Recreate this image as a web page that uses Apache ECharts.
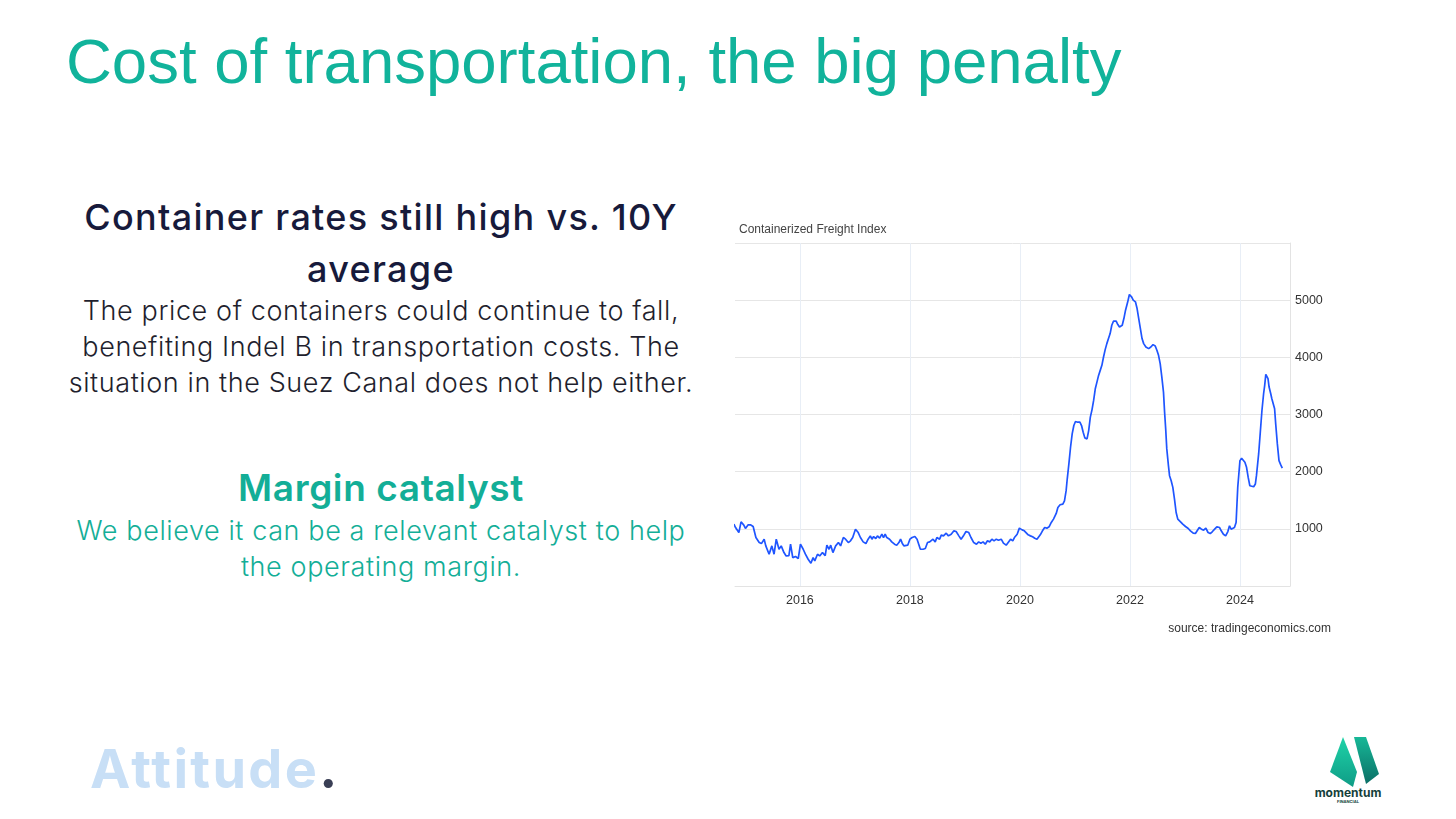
<!DOCTYPE html>
<html>
<head>
<meta charset="utf-8">
<script src="https://cdn.jsdelivr.net/npm/echarts@6/dist/echarts.min.js"></script>
<style>
  html, body { margin: 0; padding: 0; background: #fff; }
  #page { position: relative; width: 1456px; height: 819px; overflow: hidden; background: #fff; }
  .txt { position: absolute; white-space: nowrap; }
  .center { left: 0; width: 762px; text-align: center; }
  #headline { left: 66px; top: 25px; font-family: "Liberation Sans", Arial, sans-serif; font-size: 63.5px; color: #11b39b; }
  .sub { font-family: Inter, "Noto Sans", sans-serif; font-weight: 500; font-size: 36px; letter-spacing: 1.3px; color: #171a3b; }
  .body { font-family: Inter, "Noto Sans", sans-serif; font-weight: 300; font-size: 27px; letter-spacing: 0.6px; color: #1f1f2e; }
  .catalyst { font-family: Inter, "Noto Sans", sans-serif; font-weight: 600; font-size: 37px; letter-spacing: 0.6px; color: #13ae97; }
  .teal { color: #13ae97; }
  #attitude { left: 90px; top: 736px; font-family: Inter, "Noto Sans", sans-serif; font-weight: 700; font-size: 54px; color: #c8dff6; letter-spacing: 2.3px; }
  #attitude span { color: #3a3f55; }
  #chart { position: absolute; left: 720px; top: 205px; width: 640px; height: 440px; }
  #logo { position: absolute; left: 1308px; top: 730px; width: 80px; height: 85px; }
</style>
</head>
<body>
<div id="page">
  <div id="headline" class="txt">Cost of transportation, the big penalty</div>

  <div class="txt center sub" style="top:195px">Container rates still high vs. 10Y</div>
  <div class="txt center sub" style="top:247px">average</div>
  <div class="txt center body" style="top:294px">The price of containers could continue to fall,</div>
  <div class="txt center body" style="top:330px">benefiting Indel B in transportation costs. The</div>
  <div class="txt center body" style="top:366px">situation in the Suez Canal does not help either.</div>

  <div class="txt center catalyst" style="top:465px">Margin catalyst</div>
  <div class="txt center body teal" style="top:514px">We believe it can be a relevant catalyst to help</div>
  <div class="txt center body teal" style="top:550px">the operating margin.</div>

  <div id="attitude" class="txt">Attitude<span>.</span></div>

  <svg id="logo" viewBox="0 0 80 85">
    <defs>
      <linearGradient id="g1" x1="0" y1="0" x2="0" y2="1">
        <stop offset="0" stop-color="#1fd3a8"/>
        <stop offset="1" stop-color="#0f9c86"/>
      </linearGradient>
      <linearGradient id="g2" x1="0" y1="0" x2="0" y2="1">
        <stop offset="0" stop-color="#17b897"/>
        <stop offset="1" stop-color="#0b6f66"/>
      </linearGradient>
    </defs>
    <polygon points="22,42 35,7 49,42 45,57" fill="url(#g1)"/>
    <polygon points="46,7 58,7 71,44 58,54" fill="url(#g2)"/>
    <text x="40" y="67" text-anchor="middle" font-family="Inter, sans-serif" font-weight="700" font-size="12" fill="#163f3b">momentum</text>
    <text x="40" y="73" text-anchor="middle" font-family="Inter, sans-serif" font-weight="700" font-size="4" fill="#163f3b">FINANCIAL</text>
  </svg>

  <div id="chart"></div>
</div>

<script>
// Containerized Freight Index (x in decimal years)
const dates = [
  2014.80, 2014.83, 2014.89, 2014.93, 2014.98, 2015.01, 2015.06, 2015.10, 2015.15, 2015.20,
  2015.26, 2015.30, 2015.35, 2015.38, 2015.44, 2015.49, 2015.53, 2015.57, 2015.62, 2015.66,
  2015.71, 2015.75, 2015.80, 2015.83, 2015.87, 2015.92, 2015.97, 2016.01, 2016.06, 2016.10,
  2016.15, 2016.20, 2016.24, 2016.27, 2016.32, 2016.36, 2016.41, 2016.46, 2016.49, 2016.53,
  2016.56, 2016.60, 2016.65, 2016.70, 2016.74, 2016.79, 2016.83, 2016.88, 2016.92, 2016.96,
  2017.01, 2017.06, 2017.10, 2017.15, 2017.20, 2017.24,
  2017.28, 2017.31, 2017.34, 2017.38, 2017.41, 2017.45, 2017.49, 2017.52, 2017.55, 2017.58,
  2017.63, 2017.67, 2017.72, 2017.76, 2017.80, 2017.83, 2017.86, 2017.89, 2017.92, 2017.96,
  2018.00, 2018.04, 2018.09, 2018.13, 2018.16, 2018.19, 2018.24, 2018.28, 2018.32, 2018.36,
  2018.39, 2018.42, 2018.46, 2018.49, 2018.54, 2018.57, 2018.61, 2018.66, 2018.70, 2018.75,
  2018.80, 2018.84, 2018.89, 2018.93, 2018.98, 2019.02, 2019.07, 2019.11, 2019.16, 2019.21,
  2019.25, 2019.29, 2019.33, 2019.37, 2019.41, 2019.45, 2019.49, 2019.53, 2019.57, 2019.61,
  2019.66, 2019.70, 2019.75, 2019.78, 2019.83, 2019.87, 2019.90, 2019.95, 2019.99, 2020.04,
  2020.08,
  2020.10, 2020.15, 2020.19, 2020.23, 2020.27, 2020.31, 2020.34, 2020.37, 2020.41, 2020.45,
  2020.49, 2020.53, 2020.57, 2020.61, 2020.66, 2020.69, 2020.73, 2020.78, 2020.81, 2020.84,
  2020.86, 2020.89, 2020.92, 2020.95, 2020.98, 2021.01, 2021.05, 2021.09, 2021.12, 2021.15,
  2021.18, 2021.22, 2021.25, 2021.28, 2021.31, 2021.34, 2021.37, 2021.40, 2021.43, 2021.46,
  2021.49, 2021.52, 2021.55, 2021.58, 2021.61, 2021.64,
  2021.67, 2021.70, 2021.75, 2021.78, 2021.81, 2021.86, 2021.89, 2021.92, 2021.96, 2021.99,
  2022.03, 2022.06, 2022.10, 2022.13, 2022.16, 2022.19, 2022.22, 2022.25, 2022.29, 2022.34,
  2022.38, 2022.42, 2022.46, 2022.49, 2022.52, 2022.55, 2022.58, 2022.61, 2022.63, 2022.65,
  2022.67, 2022.70, 2022.72, 2022.75, 2022.78, 2022.81, 2022.84, 2022.87, 2022.92, 2022.96,
  2023.01, 2023.06, 2023.10, 2023.15,
  2023.19, 2023.22, 2023.26, 2023.30, 2023.34, 2023.38, 2023.42, 2023.46, 2023.50, 2023.54,
  2023.58, 2023.63, 2023.66, 2023.70, 2023.74, 2023.78, 2023.81, 2023.84, 2023.87, 2023.90,
  2023.93, 2023.94, 2023.96, 2023.98, 2024.00, 2024.03, 2024.05, 2024.09, 2024.12, 2024.15,
  2024.18, 2024.21, 2024.25, 2024.28, 2024.30, 2024.32, 2024.34, 2024.37, 2024.40, 2024.43,
  2024.45, 2024.47, 2024.49, 2024.51, 2024.53, 2024.56, 2024.58, 2024.61, 2024.63, 2024.65,
  2024.68, 2024.71, 2024.74, 2024.77
];
const freight = [
  1082, 1023, 935, 1123, 1065, 1006, 1070, 1070, 1041, 848,
  760, 742, 819, 702, 556, 702, 556, 819, 643, 702,
  585, 526, 532, 731, 497, 515, 480, 731, 643, 556,
  468, 398, 497, 439, 556, 526, 585, 532, 714, 643,
  714, 585, 702, 760, 702, 848, 819, 760, 790, 848,
  994, 935, 848, 772, 742, 819,
  877, 819, 865, 830, 877, 836, 906, 848, 906, 848,
  819, 772, 731, 714, 760, 819, 749, 702, 731, 714,
  819, 848, 865, 819, 731, 643, 643, 655, 760, 772,
  749, 819, 772, 848, 819, 889, 877, 924, 877, 906,
  965, 953, 877, 819, 889, 953, 935, 848, 760, 731,
  772, 749, 772, 731, 790, 772, 819, 790, 819, 801,
  819, 749, 714, 714, 819, 790, 848, 906, 1012, 982,
  965,
  936, 895, 877, 860, 836, 819, 848, 895, 965, 1023,
  1012, 1035, 1111, 1170, 1269, 1374, 1421, 1433, 1491, 1667,
  1871, 2135, 2427, 2661, 2807, 2877, 2865, 2865, 2807, 2690,
  2591, 2573, 2719, 2953, 3082, 3246, 3450, 3567, 3684, 3772,
  3860, 4006, 4135, 4240, 4328, 4416,
  4561, 4632, 4632, 4573, 4532, 4561, 4678, 4825, 4971, 5099,
  5058, 5000, 4971, 4854, 4678, 4503, 4328, 4240, 4181, 4152,
  4181, 4222, 4199, 4123, 4035, 3889, 3655, 3392, 3041, 2749,
  2398, 2105, 1930, 1842, 1725, 1521, 1286, 1170, 1123, 1082,
  1041, 1006, 965, 924,
  918, 936, 1023, 994, 977, 1012, 936, 918, 953, 994,
  1035, 1023, 965, 906, 877, 953, 1053, 994, 1000, 1023,
  1111, 1316, 1725, 1959, 2193, 2234, 2205, 2164, 2076, 1900,
  1754, 1725, 1737, 1784, 1930, 1959, 2310, 2690, 3070, 3363,
  3509, 3702, 3714, 3626, 3480, 3363, 3275, 3246, 3100, 2837,
  2486, 2193, 2123, 2064
];
const yearTicks = [2016, 2018, 2020, 2022, 2024];
const valueTicks = [1000, 2000, 3000, 4000, 5000];

const chartFont = '"Liberation Sans", Arial, sans-serif';
const chart = echarts.init(document.getElementById('chart'));

chart.setOption({
  animation: false,
  textStyle: { fontFamily: chartFont },
  title: [
    {
      text: 'Containerized Freight Index',
      left: 14, top: 14,
      textStyle: { fontSize: 12, fontWeight: 'normal', color: '#444', fontFamily: chartFont }
    },
    {
      text: 'source: tradingeconomics.com',
      right: 24, top: 413,
      textStyle: { fontSize: 12, fontWeight: 'normal', color: '#333', fontFamily: chartFont }
    }
  ],
  grid: { left: 15, top: 38, right: 70, bottom: 59 },
  xAxis: {
    type: 'value',
    min: 2014.82,
    max: 2024.91,
    axisLine: { show: true, lineStyle: { color: '#e3e3e3' } },
    axisTick: { show: false, customValues: yearTicks },
    axisLabel: {
      customValues: yearTicks,
      formatter: v => String(v),
      color: '#333', fontSize: 12.5, margin: 8
    },
    splitLine: { show: true, lineStyle: { color: '#e8eef6', width: 1 } }
  },
  yAxis: {
    type: 'value',
    position: 'right',
    min: 0,
    max: 6000,
    interval: 1000,
    axisLine: { show: true, lineStyle: { color: '#e3e3e3' } },
    axisTick: { show: false },
    axisLabel: {
      color: '#333', fontSize: 12.5, margin: 5,
      formatter: v => valueTicks.includes(v) ? String(v) : ''
    },
    splitLine: { show: true, lineStyle: { color: '#e6e6e6', width: 1 } }
  },
  series: [{
    type: 'line',
    data: dates.map((d, i) => [d, freight[i]]),
    showSymbol: false,
    smooth: false,
    lineStyle: { color: '#1f55ff', width: 1.7 },
    itemStyle: { color: '#1f55ff' }
  }]
});
</script>
</body>
</html>
